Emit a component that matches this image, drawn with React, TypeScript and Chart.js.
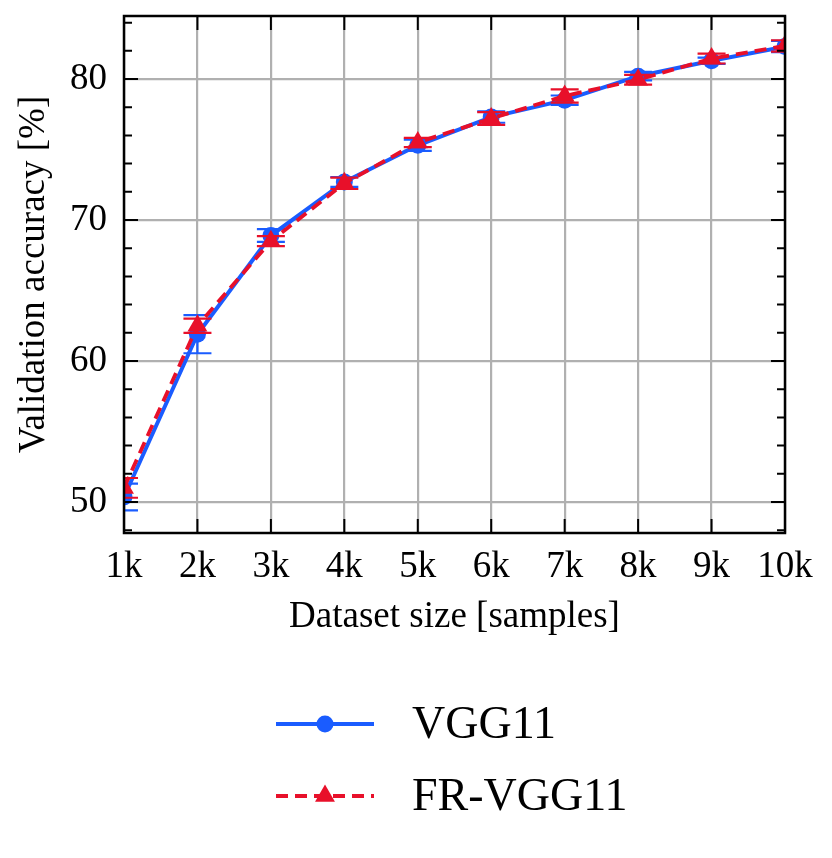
import { useEffect, useRef } from 'react';
import Chart, { ChartConfiguration, Plugin } from 'chart.js/auto';

const sizes = ['1k', '2k', '3k', '4k', '5k', '6k', '7k', '8k', '9k', '10k'];
const vggMean = [50.35, 61.9, 68.9, 72.7, 75.3, 77.3, 78.5, 80.2, 81.3, 82.3];
const vggErr = [0.95, 1.35, 0.45, 0.35, 0.4, 0.4, 0.33, 0.3, 0.22, 0.4];
const frMean = [51.0, 62.5, 68.5, 72.6, 75.5, 77.2, 78.8, 79.95, 81.45, 82.35];
const frErr = [0.7, 0.5, 0.35, 0.4, 0.33, 0.45, 0.47, 0.35, 0.35, 0.4];
const yTicks = [50, 60, 70, 80];
const seriesNames = ['VGG11', 'FR-VGG11'];

const BLUE = '#1a5cff';
const RED = '#e8102a';
const FONT = '"Liberation Serif", "Times New Roman", serif';

const errorBars: Plugin = {
  id: 'errorBars',
  beforeDatasetDraw(chart, args) {
    const errs = args.index === 0 ? vggErr : frErr;
    const means = args.index === 0 ? vggMean : frMean;
    const color = args.index === 0 ? BLUE : RED;
    const { ctx, chartArea, scales } = chart;
    ctx.save();
    ctx.beginPath();
    ctx.rect(chartArea.left, chartArea.top, chartArea.right - chartArea.left, chartArea.bottom - chartArea.top);
    ctx.clip();
    ctx.strokeStyle = color;
    ctx.lineWidth = 2.2;
    means.forEach((m, i) => {
      const x = scales.x.getPixelForValue(i);
      const y1 = scales.y.getPixelForValue(m - errs[i]);
      const y2 = scales.y.getPixelForValue(m + errs[i]);
      ctx.beginPath();
      ctx.moveTo(x, y1);
      ctx.lineTo(x, y2);
      ctx.moveTo(x - 14, y1);
      ctx.lineTo(x + 14, y1);
      ctx.moveTo(x - 14, y2);
      ctx.lineTo(x + 14, y2);
      ctx.stroke();
    });
    ctx.restore();
  },
};

const frameTicks: Plugin = {
  id: 'frameTicks',
  afterDatasetsDraw(chart) {
    const { ctx, chartArea: a, scales } = chart;
    ctx.save();
    ctx.strokeStyle = '#000';
    ctx.lineWidth = 2;
    ctx.beginPath();
    sizes.forEach((_, i) => {
      const x = scales.x.getPixelForValue(i);
      ctx.moveTo(x, a.bottom);
      ctx.lineTo(x, a.bottom - 14);
      ctx.moveTo(x, a.top);
      ctx.lineTo(x, a.top + 14);
    });
    for (let v = 48; v <= 84; v += 2) {
      const y = scales.y.getPixelForValue(v);
      const len = v % 10 === 0 ? 14 : 8;
      ctx.moveTo(a.left, y);
      ctx.lineTo(a.left + len, y);
      ctx.moveTo(a.right, y);
      ctx.lineTo(a.right - len, y);
    }
    ctx.stroke();
    ctx.lineWidth = 2.5;
    ctx.strokeRect(a.left, a.top, a.right - a.left, a.bottom - a.top);
    ctx.restore();
  },
};

const lineLegend: Plugin = {
  id: 'lineLegend',
  afterDraw(chart) {
    const { ctx } = chart;
    const rows = [724, 796];
    ctx.save();
    rows.forEach((y, i) => {
      const color = i === 0 ? BLUE : RED;
      ctx.strokeStyle = color;
      ctx.fillStyle = color;
      ctx.lineWidth = 3.8;
      ctx.setLineDash(i === 0 ? [] : [12, 7]);
      ctx.beginPath();
      ctx.moveTo(276, y);
      ctx.lineTo(374, y);
      ctx.stroke();
      ctx.setLineDash([]);
      ctx.beginPath();
      if (i === 0) {
        ctx.arc(325, y, 8.5, 0, Math.PI * 2);
      } else {
        const r = 11.5;
        ctx.moveTo(325, y - r);
        ctx.lineTo(325 + r * Math.sin((2 * Math.PI) / 3), y - r * Math.cos((2 * Math.PI) / 3));
        ctx.lineTo(325 - r * Math.sin((2 * Math.PI) / 3), y - r * Math.cos((2 * Math.PI) / 3));
        ctx.closePath();
      }
      ctx.fill();
      ctx.fillStyle = '#000';
      ctx.font = `46px ${FONT}`;
      ctx.textBaseline = 'middle';
      ctx.textAlign = 'left';
      ctx.fillText(seriesNames[i], 412, y + 2);
    });
    ctx.restore();
  },
};

const App = () => {
  const canvasRef = useRef<HTMLCanvasElement | null>(null);
  const chartRef = useRef<Chart | null>(null);

  useEffect(() => {
    if (!canvasRef.current) return;
    const ctx = canvasRef.current.getContext('2d');
    if (!ctx) return;
    if (chartRef.current) chartRef.current.destroy();

    const tickFont = { family: FONT, size: 37 };

    chartRef.current = new Chart(ctx, {
      type: 'line',
      data: {
        labels: sizes,
        datasets: [
          {
            label: seriesNames[0],
            data: vggMean,
            order: 2,
            borderColor: BLUE,
            backgroundColor: BLUE,
            borderWidth: 4,
            pointStyle: 'circle',
            pointRadius: 8.5,
            pointBorderWidth: 0,
            pointBackgroundColor: BLUE,
            clip: 0,
            tension: 0,
          },
          {
            label: seriesNames[1],
            data: frMean,
            order: 1,
            borderColor: RED,
            backgroundColor: RED,
            borderWidth: 3.8,
            borderDash: [12, 7],
            pointStyle: 'triangle',
            pointRadius: 11.5,
            pointBorderWidth: 0,
            pointBackgroundColor: RED,
            clip: 0,
            tension: 0,
          },
        ],
      },
      options: {
        responsive: false,
        animation: false,
        devicePixelRatio: 1,
        layout: { padding: { top: 16, right: 47, bottom: 215, left: 0 } },
        plugins: {
          legend: { display: false },
          tooltip: { enabled: false },
        },
        scales: {
          x: {
            type: 'category',
            offset: false,
            grid: { color: '#b0b0b0', lineWidth: 2.2, drawTicks: false },
            border: { display: false },
            ticks: { font: tickFont, color: '#000', padding: 12, maxRotation: 0, autoSkip: false },
            title: {
              display: true,
              text: 'Dataset size [samples]',
              font: tickFont,
              color: '#000',
              padding: { top: 4, bottom: 4 },
            },
            afterFit: (s) => {
              s.height = 110;
              s.paddingLeft = 0;
              s.paddingRight = 0;
            },
          },
          y: {
            type: 'linear',
            min: 47.8,
            max: 84.47,
            grid: { color: '#b0b0b0', lineWidth: 2.2, drawTicks: false },
            border: { display: false },
            ticks: { font: tickFont, color: '#000', padding: 17 },
            afterBuildTicks: (s) => {
              s.ticks = yTicks.map((v) => ({ value: v }));
            },
            title: {
              display: true,
              text: 'Validation accuracy [%]',
              font: tickFont,
              color: '#000',
              padding: { top: 12, bottom: 4 },
            },
            afterFit: (s) => {
              s.width = 124;
              s.paddingTop = 0;
              s.paddingBottom = 0;
            },
          },
        },
      },
      plugins: [errorBars, frameTicks, lineLegend],
    } as ChartConfiguration);

    return () => {
      if (chartRef.current) {
        chartRef.current.destroy();
        chartRef.current = null;
      }
    };
  }, []);

  return (
    <div style={{ position: 'absolute', left: 0, top: 0, width: 832, height: 858, background: '#fff' }}>
      <canvas ref={canvasRef} width={832} height={858} style={{ width: 832, height: 858 }} />
    </div>
  );
};

export default App;
